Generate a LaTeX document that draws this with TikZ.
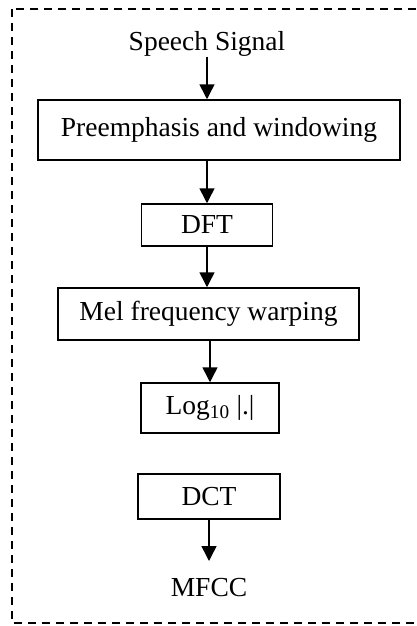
\documentclass[tikz,border=0pt]{standalone}
\usepackage{fontspec}
\setmainfont{Liberation Serif}
\usetikzlibrary{
  arrows.meta,
  positioning
}

\begin{document}
\begin{tikzpicture}[
  x=1pt, y=-1pt,
  font=\fontsize{27.5}{30}\selectfont,
  stage/.style={
    rectangle, draw=black, line width=1.5pt,
    inner sep=0pt, align=center
  },
  label/.style={inner sep=0pt},
  arrow/.style={-{Triangle[length=15pt, width=15pt]}, black, line width=1.5pt},
  frame/.style={draw=black, line width=2pt, dash pattern=on 8pt off 6pt},
]
\useasboundingbox (0,0) rectangle (417,626);

% outer dashed frame (right side runs off the page)
\draw[frame] (12,9) rectangle (440,623);

% MFCC chain
\node[label] (sig) at (207,44) {Speech Signal};
\node[stage, minimum width=362pt, minimum height=60pt] (pre) at (219,130) {Preemphasis and windowing};
\node[stage, minimum width=131pt, minimum height=42pt] (dft) at (207,225) {DFT};
\node[stage, minimum width=301pt, minimum height=52pt] (mel) at (208.5,314) {Mel frequency warping};
\node[stage, minimum width=138pt, minimum height=50pt] (log) at (210,408) {Log\textsubscript{10} |.|};
\node[stage, minimum width=142pt, minimum height=45pt] (dct) at (209,496.5) {DCT};
\node[label] (mfcc) at (209,588) {MFCC};
\coordinate (out) at (209,561);

\draw[arrow] (sig.south) -- (sig.south |- pre.north);
\draw[arrow] (pre.south -| dft.north) -- (dft.north);
\draw[arrow] (dft.south) -- (dft.south |- mel.north);
\draw[arrow] (mel.south -| log.north) -- (log.north);
\draw[arrow] (dct.south) -- (out);

\end{tikzpicture}
\end{document}
